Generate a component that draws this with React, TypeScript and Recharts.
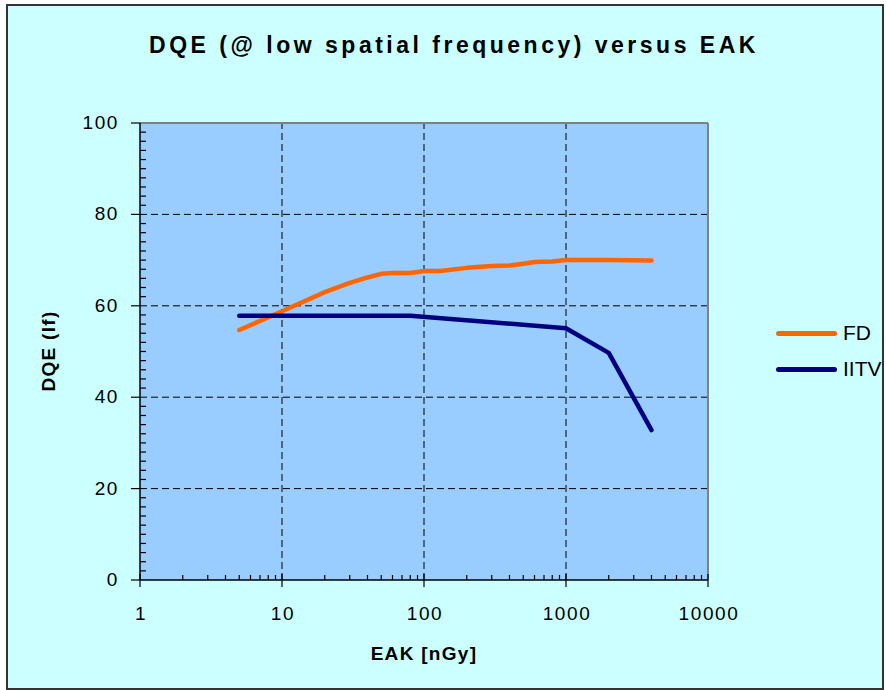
import { LineChart, Line, XAxis, YAxis, CartesianGrid, ReferenceLine, Legend } from 'recharts';

// FD (flat detector) curve
const fdEak = [5, 10, 20, 30, 40, 50, 60, 80, 100, 130, 200, 300, 400, 500, 600, 800, 1000, 2000, 4000];
const fdDqe = [54.7, 58.8, 63, 65, 66.2, 67, 67.2, 67.2, 67.6, 67.6, 68.3, 68.7, 68.8, 69.2, 69.6, 69.7, 70, 70, 69.9];

// IITV (image intensifier TV) curve
const iitvEak = [5, 10, 20, 40, 80, 1000, 2000, 4000];
const iitvDqe = [57.8, 57.8, 57.8, 57.8, 57.8, 55.1, 49.7, 32.8];

const xMajor = [1, 10, 100, 1000, 10000];
const xTicks = [
  1, 2, 3, 4, 5, 6, 7, 8, 9,
  10, 20, 30, 40, 50, 60, 70, 80, 90,
  100, 200, 300, 400, 500, 600, 700, 800, 900,
  1000, 2000, 3000, 4000, 5000, 6000, 7000, 8000, 9000,
  10000,
];
const yMajor = [0, 20, 40, 60, 80, 100];
const yTicks = [
  0, 2, 4, 6, 8, 10, 12, 14, 16, 18, 20, 22, 24, 26, 28, 30, 32, 34, 36, 38, 40,
  42, 44, 46, 48, 50, 52, 54, 56, 58, 60, 62, 64, 66, 68, 70, 72, 74, 76, 78, 80,
  82, 84, 86, 88, 90, 92, 94, 96, 98, 100,
];

const FONT = 'Liberation Sans, Arial, sans-serif';
const FD_COLOR = '#FF6600';
const IITV_COLOR = '#000080';

const fdData = fdEak.map((x, i) => ({ x, fd: fdDqe[i] }));
const iitvData = iitvEak.map((x, i) => ({ x, iitv: iitvDqe[i] }));

const XTick = (props: any) => {
  const { x, y, payload } = props;
  const major = xMajor.includes(payload.value);
  return (
    <g>
      {major ? (
        <line x1={x} x2={x} y1={y - 6} y2={y + 7} stroke="#000" strokeWidth={1.2} />
      ) : (
        <line x1={x} x2={x} y1={y} y2={y - 5} stroke="#000" strokeWidth={1.2} />
      )}
      {major && (
        <text x={x + 1} y={y + 40} textAnchor="middle" fontSize={19} letterSpacing={1.6} fill="#000" fontFamily={FONT}>
          {payload.value}
        </text>
      )}
    </g>
  );
};

const YTick = (props: any) => {
  const { x, y, payload } = props;
  const major = yMajor.includes(payload.value);
  return (
    <g>
      {major ? (
        <line x1={x - 9} x2={x} y1={y} y2={y} stroke="#000" strokeWidth={1.2} />
      ) : (
        <line x1={x} x2={x + 6} y1={y} y2={y} stroke="#000" strokeWidth={1.2} />
      )}
      {major && (
        <text x={x - 21} y={y + 6} textAnchor="end" fontSize={19} letterSpacing={1.6} fill="#000" fontFamily={FONT}>
          {payload.value}
        </text>
      )}
    </g>
  );
};

const LegendBox = (props: any) => {
  const { payload } = props;
  return (
    <div style={{ fontFamily: FONT }}>
      {(payload || []).map((p: any) => (
        <div key={p.value} style={{ display: 'flex', alignItems: 'center', height: 36 }}>
          <div style={{ width: 61, height: 5, borderRadius: 3, background: p.color, marginRight: 6 }} />
          <span style={{ fontSize: 21, color: '#000' }}>{p.value}</span>
        </div>
      ))}
    </div>
  );
};

export default function App() {
  return (
    <div style={{ position: 'relative', width: 886, height: 690, background: '#fff', overflow: 'hidden' }}>
      <style>{'body{margin:0}'}</style>
      <div
        style={{
          position: 'absolute',
          left: 6,
          top: 4,
          width: 874,
          height: 682,
          border: '2px solid #333',
          background: '#CCFFFF',
        }}
      />
      <div
        style={{
          position: 'absolute',
          left: 54,
          top: 34,
          width: 800,
          textAlign: 'center',
          fontFamily: FONT,
          fontWeight: 'bold',
          fontSize: 23,
          lineHeight: '22px',
          letterSpacing: 3.5,
          color: '#000',
        }}
      >
        DQE (@ low spatial frequency) versus EAK
      </div>
      <div
        style={{
          position: 'absolute',
          left: 224,
          top: 644,
          width: 400,
          textAlign: 'center',
          fontFamily: FONT,
          fontWeight: 'bold',
          fontSize: 19,
          lineHeight: '19px',
          letterSpacing: 1.3,
          color: '#000',
        }}
      >
        EAK [nGy]
      </div>
      <div
        style={{
          position: 'absolute',
          left: 48,
          top: 351,
          transform: 'translate(-50%, -50%) rotate(-90deg)',
          whiteSpace: 'nowrap',
          fontFamily: FONT,
          fontWeight: 'bold',
          fontSize: 19,
          lineHeight: '19px',
          letterSpacing: 1.3,
          color: '#000',
        }}
      >
        DQE (lf)
      </div>
      <div style={{ position: 'absolute', left: 0, top: 0 }}>
        <LineChart width={886} height={690} margin={{ top: 123, left: 80, right: 178, bottom: 50 }}>
          <CartesianGrid fill="#99CCFF" fillOpacity={1} horizontal={false} vertical={false} />
          <XAxis
            type="number"
            dataKey="x"
            scale="log"
            domain={[1, 10000]}
            ticks={xTicks}
            allowDataOverflow
            height={60}
            tickSize={0}
            tickMargin={0}
            tickLine={false}
            tick={<XTick />}
            interval={0}
            axisLine={{ stroke: '#000', strokeWidth: 1.5 }}
          />
          <YAxis
            type="number"
            domain={[0, 100]}
            ticks={yTicks}
            width={60}
            tickSize={0}
            tickMargin={0}
            tickLine={false}
            tick={<YTick />}
            interval={0}
            axisLine={{ stroke: '#000', strokeWidth: 1.5 }}
          />
          {[20, 40, 60, 80].map((v) => (
            <ReferenceLine key={'h' + v} y={v} stroke="#000" strokeDasharray="7 4" strokeWidth={1} />
          ))}
          {[10, 100, 1000].map((v) => (
            <ReferenceLine key={'v' + v} x={v} stroke="#000" strokeDasharray="7 4" strokeWidth={1} />
          ))}
          <ReferenceLine y={100} stroke="#808080" strokeWidth={2} />
          <ReferenceLine x={10000} stroke="#808080" strokeWidth={2} />
          <Line
            data={fdData}
            dataKey="fd"
            name="FD"
            type="linear"
            stroke={FD_COLOR}
            strokeWidth={4.5}
            strokeLinecap="round"
            strokeLinejoin="round"
            dot={false}
            isAnimationActive={false}
          />
          <Line
            data={iitvData}
            dataKey="iitv"
            name="IITV"
            type="linear"
            stroke={IITV_COLOR}
            strokeWidth={4.5}
            strokeLinecap="round"
            strokeLinejoin="round"
            dot={false}
            isAnimationActive={false}
          />
          <Legend
            layout="vertical"
            align="center"
            verticalAlign="middle"
            content={<LegendBox />}
            wrapperStyle={{ position: 'absolute', left: 776, top: 315, width: 110 }}
          />
        </LineChart>
      </div>
    </div>
  );
}
